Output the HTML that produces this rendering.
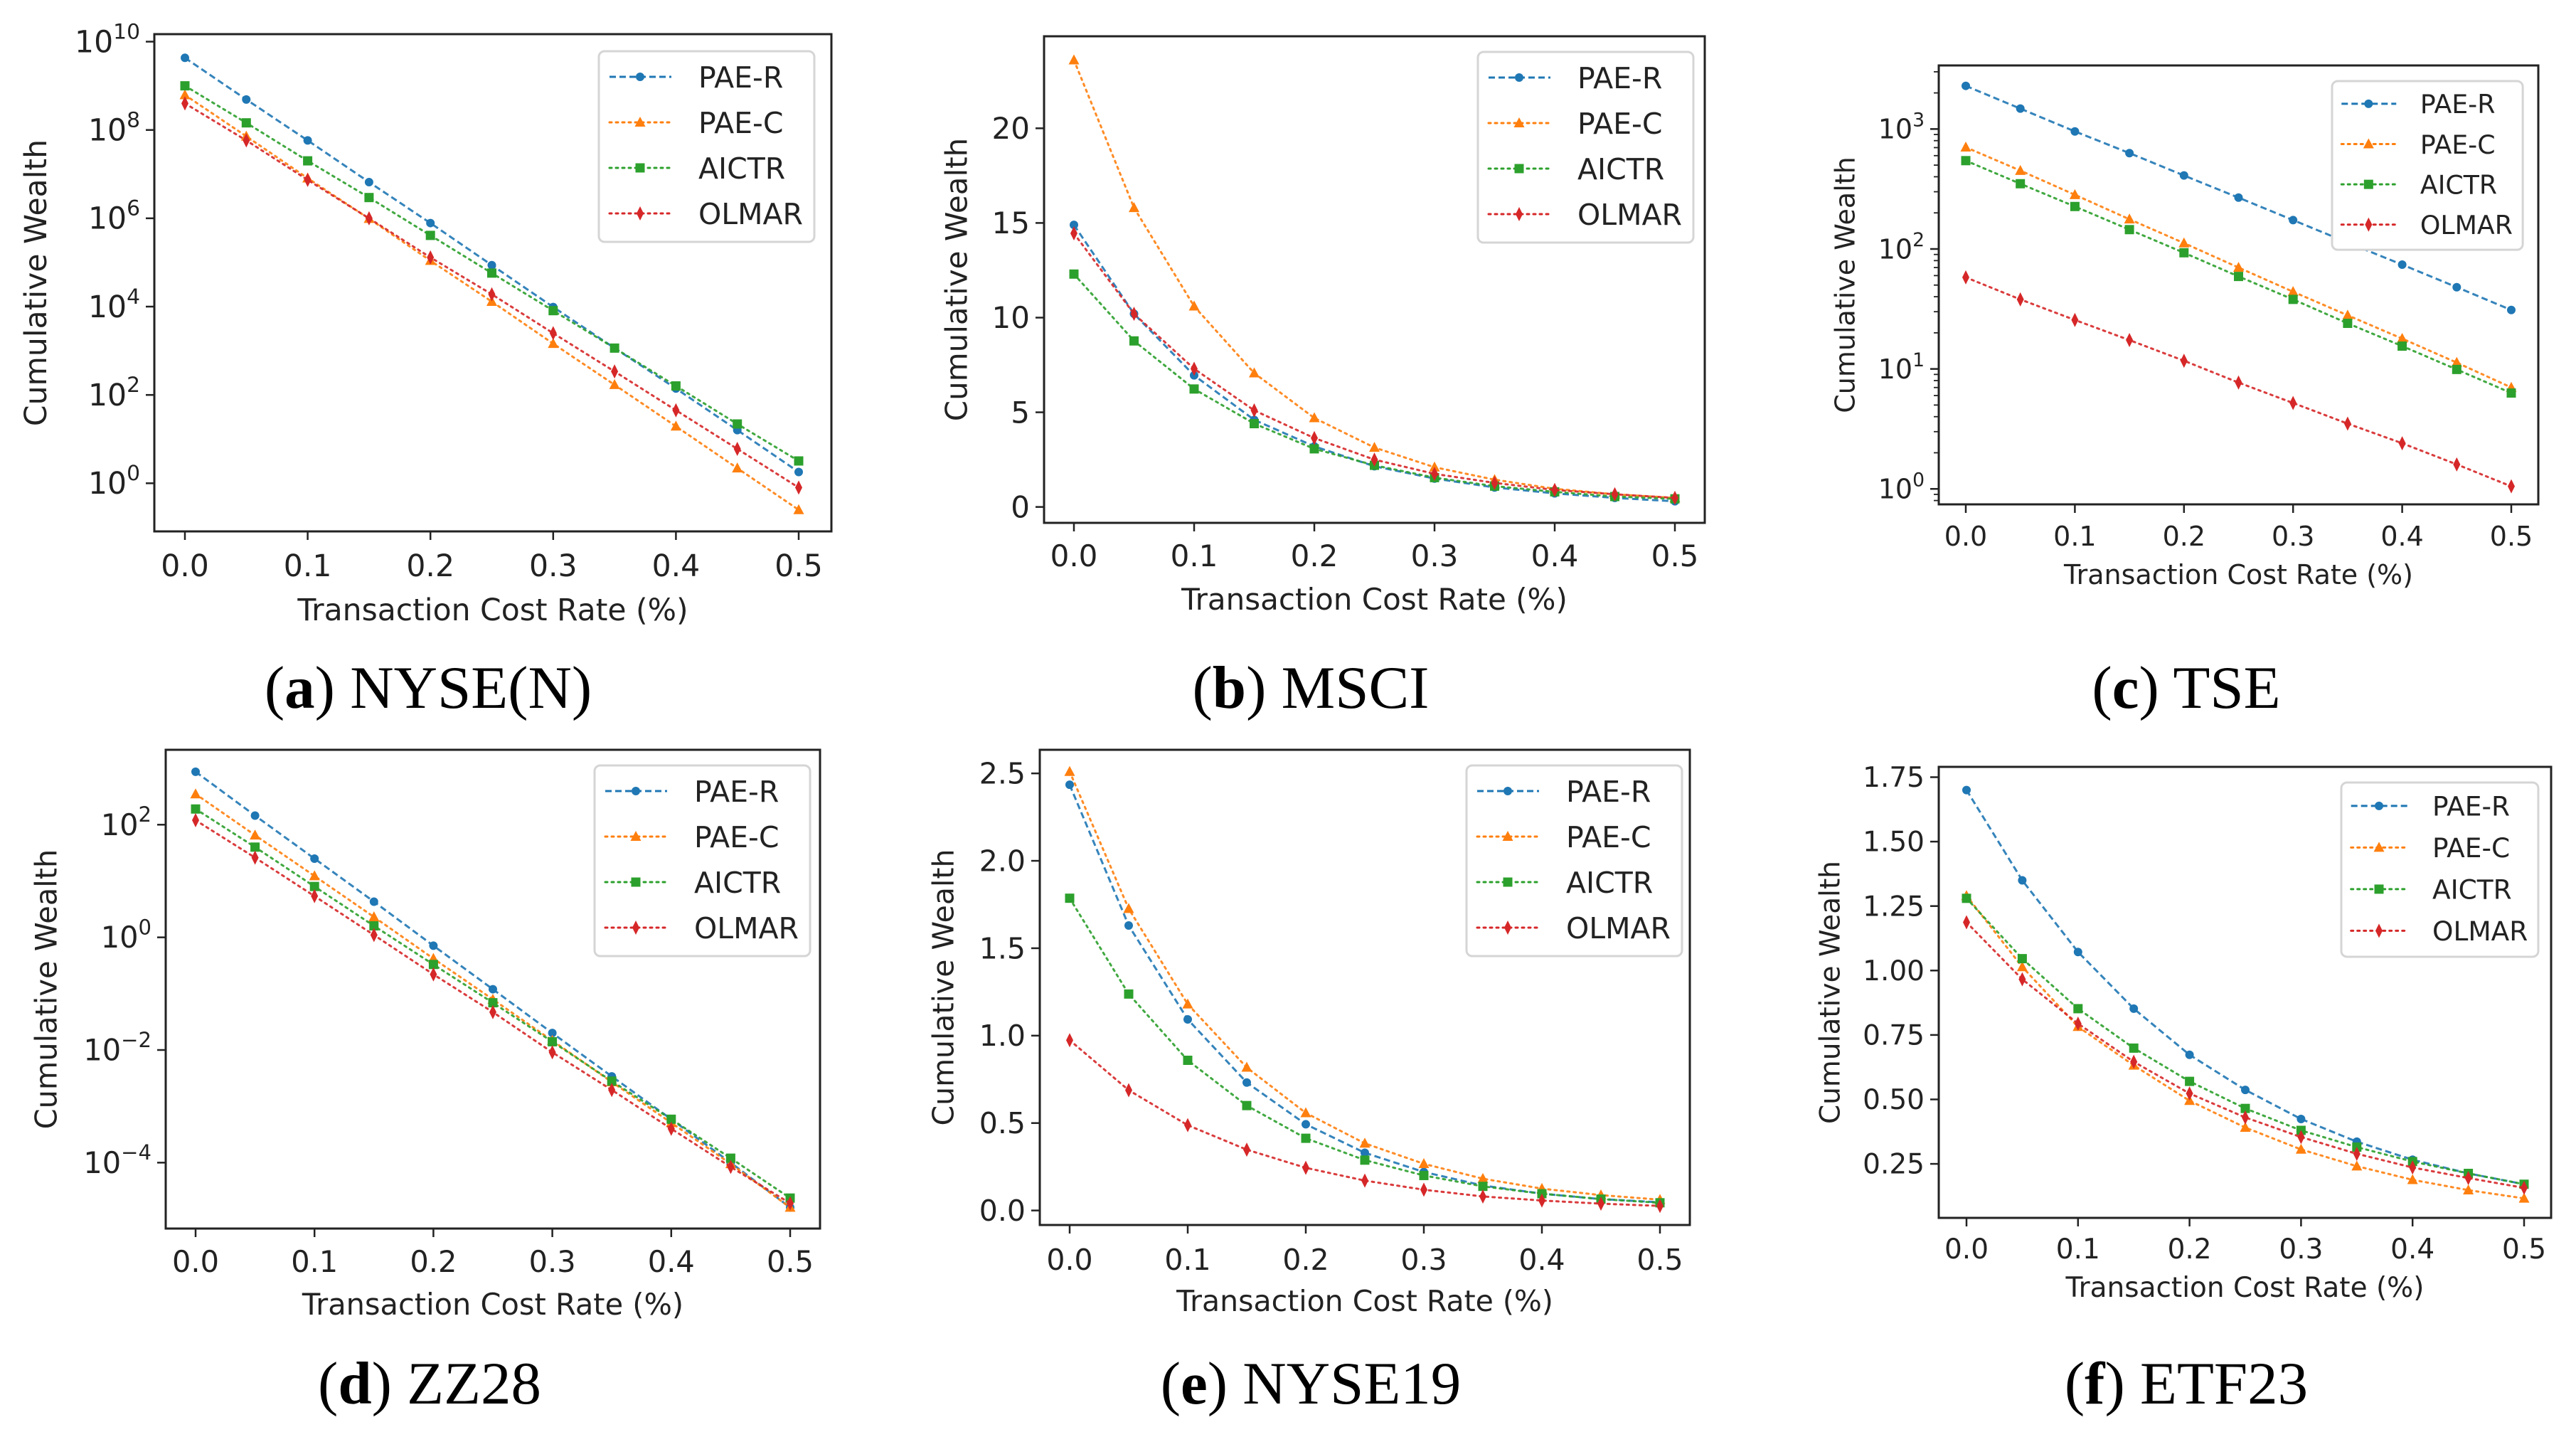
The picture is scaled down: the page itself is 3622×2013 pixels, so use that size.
<!DOCTYPE html>
<html><head><meta charset="utf-8"><style>
html,body{margin:0;padding:0;background:#fff;}
svg{display:block;}
text{font-family:"DejaVu Sans","Liberation Sans",sans-serif;fill:#222;}
.cap{font-family:"Liberation Serif",serif;fill:#000;}
</style></head><body>
<svg id="fig" width="3622" height="2013" viewBox="0 0 3622 2013" xmlns="http://www.w3.org/2000/svg"></svg>
<script>
const xValues = [0, 0.05, 0.1, 0.15, 0.2, 0.25, 0.3, 0.35, 0.4, 0.45, 0.5];
const xTickLabels = ["0.0", "0.1", "0.2", "0.3", "0.4", "0.5"];
const seriesNames = ["PAE-R", "PAE-C", "AICTR", "OLMAR"];

const nyseN_paeR = [4.3e9, 4.9e8, 5.8e7, 6.6e6, 7.8e5, 8.7e4, 9.8e3, 1.15e3, 1.4e2, 16, 1.8];
const nyseN_paeC = [6.2e8, 7.2e7, 8.1e6, 9.8e5, 1.1e5, 1.3e4, 1.45e3, 1.7e2, 19.5, 2.2, 0.25];
const nyseN_aictr = [1.0e9, 1.45e8, 2.0e7, 2.95e6, 4.1e5, 5.75e4, 8.1e3, 1.15e3, 1.6e2, 22, 3.2];
const nyseN_olmar = [4.0e8, 5.8e7, 7.4e6, 1.0e6, 1.3e5, 1.9e4, 2.5e3, 3.4e2, 45, 6.0, 0.8];
const nyseN_yTickExps = [0, 2, 4, 6, 8, 10];

const msci_paeR = [14.9, 10.2, 6.95, 4.6, 3.2, 2.15, 1.5, 1.03, 0.72, 0.48, 0.3];
const msci_paeC = [23.6, 15.8, 10.6, 7.07, 4.7, 3.14, 2.1, 1.44, 0.96, 0.67, 0.48];
const msci_aictr = [12.3, 8.77, 6.23, 4.4, 3.07, 2.2, 1.55, 1.1, 0.8, 0.55, 0.43];
const msci_olmar = [14.45, 10.2, 7.3, 5.1, 3.64, 2.5, 1.75, 1.27, 0.9, 0.67, 0.48];
const msci_yTicks = [0, 5, 10, 15, 20];
const msci_yTickLabels = ["0", "5", "10", "15", "20"];

const tse_paeR = [2290, 1480, 955, 630, 410, 268, 174, 113, 74, 48, 31];
const tse_paeC = [705, 450, 283, 177, 112, 70, 44, 28, 17.9, 11.3, 7.0];
const tse_aictr = [545, 350, 226, 145, 93, 59, 38, 24, 15.5, 9.9, 6.3];
const tse_olmar = [58, 38, 25.6, 17.4, 11.7, 7.7, 5.2, 3.5, 2.4, 1.6, 1.05];
const tse_yTickExps = [0, 1, 2, 3];

const zz28_paeR = [870, 145, 25, 4.3, 0.71, 0.12, 0.020, 3.4e-3, 5.9e-4, 1.0e-4, 1.6e-5];
const zz28_paeC = [350, 65, 12.3, 2.3, 0.42, 0.079, 0.0147, 2.7e-3, 5.1e-4, 9.5e-5, 1.6e-5];
const zz28_aictr = [190, 40, 8.0, 1.6, 0.33, 0.069, 0.014, 2.8e-3, 5.9e-4, 1.2e-4, 2.35e-5];
const zz28_olmar = [120, 26, 5.4, 1.1, 0.22, 0.047, 9.1e-3, 1.95e-3, 4.0e-4, 8.4e-5, 1.9e-5];
const zz28_yTickExps = [-4, -2, 0, 2];

const nyse19_paeR = [2.435, 1.63, 1.093, 0.732, 0.493, 0.33, 0.22, 0.143, 0.096, 0.065, 0.047];
const nyse19_paeC = [2.51, 1.726, 1.18, 0.818, 0.558, 0.384, 0.267, 0.182, 0.125, 0.088, 0.062];
const nyse19_aictr = [1.786, 1.238, 0.859, 0.60, 0.413, 0.288, 0.20, 0.138, 0.096, 0.065, 0.044];
const nyse19_olmar = [0.974, 0.688, 0.488, 0.348, 0.244, 0.171, 0.119, 0.08, 0.057, 0.039, 0.026];
const nyse19_yTicks = [0, 0.5, 1.0, 1.5, 2.0, 2.5];
const nyse19_yTickLabels = ["0.0", "0.5", "1.0", "1.5", "2.0", "2.5"];

const etf23_paeR = [1.70, 1.35, 1.072, 0.852, 0.673, 0.537, 0.424, 0.336, 0.266, 0.213, 0.171];
const etf23_paeC = [1.29, 1.014, 0.782, 0.632, 0.495, 0.391, 0.306, 0.241, 0.188, 0.148, 0.116];
const etf23_aictr = [1.28, 1.046, 0.852, 0.699, 0.570, 0.465, 0.38, 0.315, 0.259, 0.213, 0.171];
const etf23_olmar = [1.187, 0.966, 0.794, 0.646, 0.523, 0.43, 0.354, 0.289, 0.236, 0.195, 0.157];
const etf23_yTicks = [0.25, 0.5, 0.75, 1.0, 1.25, 1.5, 1.75];
const etf23_yTickLabels = ["0.25", "0.50", "0.75", "1.00", "1.25", "1.50", "1.75"];

const NS = "http://www.w3.org/2000/svg";
const svg = document.getElementById("fig");
const COLORS = ["#1f77b4", "#ff7f0e", "#2ca02c", "#d62728"];
const DASH = ["9 5", "3 6", "3 6", "3 6"];
const MARK = ["circle", "tri", "square", "diamond"];

function el(tag, attrs, parent) {
  const e = document.createElementNS(NS, tag);
  for (const k in attrs) e.setAttribute(k, attrs[k]);
  (parent || svg).appendChild(e);
  return e;
}

const panels = [
  {id: "nyse-n", letter: "a", title: "NYSE(N)", log: true, series: [nyseN_paeR, nyseN_paeC, nyseN_aictr, nyseN_olmar], ticksExp: nyseN_yTickExps, minor: false, fs: 42.5, ls: 1,
   box: [217, 48, 1169, 747], dom: [-1.09, 10.17], xp: [260, 1123], leg: [842, 72], ylabX: 50, tickY: 810, xlabY: 872, capX: 602, capY: 995},
  {id: "msci", letter: "b", title: "MSCI", log: false, series: [msci_paeR, msci_paeC, msci_aictr, msci_olmar], ticks: msci_yTicks, tickLabels: msci_yTickLabels, fs: 42, ls: 1,
   box: [1468, 51, 2397, 735], dom: [-0.84, 24.86], xp: [1510, 2355], leg: [2078, 73], ylabX: 1345, tickY: 796, xlabY: 857, capX: 1843, capY: 995},
  {id: "tse", letter: "c", title: "TSE", log: true, series: [tse_paeR, tse_paeC, tse_aictr, tse_olmar], ticksExp: tse_yTickExps, minor: true, fs: 38, ls: 0.885,
   box: [2726, 92, 3569, 709], dom: [-0.129, 3.53], xp: [2764, 3531], leg: [3279, 114], ylabX: 2594, tickY: 767, xlabY: 821, capX: 3074, capY: 995},
  {id: "zz28", letter: "d", title: "ZZ28", log: true, series: [zz28_paeR, zz28_paeC, zz28_aictr, zz28_olmar], ticksExp: zz28_yTickExps, minor: false, fs: 41.5, ls: 1,
   box: [233, 1054, 1153, 1727], dom: [-5.17, 3.33], xp: [275, 1111], leg: [836, 1076], ylabX: 65, tickY: 1788, xlabY: 1848, capX: 604, capY: 1973},
  {id: "nyse19", letter: "e", title: "NYSE19", log: false, series: [nyse19_paeR, nyse19_paeC, nyse19_aictr, nyse19_olmar], ticks: nyse19_yTicks, tickLabels: nyse19_yTickLabels, fs: 41, ls: 1,
   box: [1462, 1054, 2376, 1722], dom: [-0.083, 2.635], xp: [1504, 2334], leg: [2062, 1076], ylabX: 1326, tickY: 1785, xlabY: 1843, capX: 1843, capY: 1973},
  {id: "etf23", letter: "f", title: "ETF23", log: false, series: [etf23_paeR, etf23_paeC, etf23_aictr, etf23_olmar], ticks: etf23_yTicks, tickLabels: etf23_yTickLabels, fs: 39, ls: 0.914,
   box: [2726, 1078, 3587, 1712], dom: [0.0405, 1.79], xp: [2765, 3549], leg: [3292, 1100], ylabX: 2573, tickY: 1769, xlabY: 1823, capX: 3074, capY: 1973}
];

function marker(g, type, x, y, color, s) {
  let m;
  if (type === "circle") m = el("circle", {cx: x, cy: y, r: 6 * s, fill: color}, g);
  else if (type === "square") m = el("rect", {x: x - 6.5 * s, y: y - 6.5 * s, width: 13 * s, height: 13 * s, fill: color}, g);
  else if (type === "tri") m = el("polygon", {points: `${x},${y - 8 * s} ${x - 7.5 * s},${y + 6 * s} ${x + 7.5 * s},${y + 6 * s}`, fill: color}, g);
  else m = el("polygon", {points: `${x},${y - 10 * s} ${x - 5 * s},${y} ${x},${y + 10 * s} ${x + 5 * s},${y}`, fill: color}, g);
  
  
  return m;
}

panels.forEach(p => {
  const [L, T, R, B] = p.box;
  const fs = p.fs;
  const g = el("g", {});
  
  
  const xs = v => p.xp[0] + (v / 0.5) * (p.xp[1] - p.xp[0]);
  const ys = v => {
    const t = p.log ? Math.log10(v) : v;
    return B - (t - p.dom[0]) / (p.dom[1] - p.dom[0]) * (B - T);
  };
  const yExp = e => B - (e - p.dom[0]) / (p.dom[1] - p.dom[0]) * (B - T);

  xTickLabels.forEach((lab, i) => {
    const v = i * 0.1, x = xs(v);
    el("line", {x1: x, y1: B, x2: x, y2: B + 12, stroke: "#222", "stroke-width": 2.5}, g);
    const t = el("text", {x: x, y: p.tickY, "font-size": fs, "text-anchor": "middle"}, g);
    t.textContent = lab;
    
    
  });
  if (p.log) {
    p.ticksExp.forEach(e => {
      const y = yExp(e);
      el("line", {x1: L - 12, y1: y, x2: L, y2: y, stroke: "#222", "stroke-width": 2.5}, g);
      const t = el("text", {x: L - 20, y: y + fs * 0.35, "font-size": fs, "text-anchor": "end"}, g);
      
      
      const a = el("tspan", {}, t); a.textContent = "10";
      const b = el("tspan", {"font-size": fs * 0.7, dy: -fs * 0.45}, t); b.textContent = e < 0 ? "\u2212" + (-e) : String(e);
    });
    if (p.minor) {
      for (let d = Math.floor(p.dom[0]); d <= Math.ceil(p.dom[1]); d++) {
        for (let k = 2; k <= 9; k++) {
          const e = d + Math.log10(k);
          if (e < p.dom[0] || e > p.dom[1]) continue;
          const y = yExp(e);
          el("line", {x1: L - 7, y1: y, x2: L, y2: y, stroke: "#222", "stroke-width": 1.8}, g);
        }
      }
    }
  } else {
    p.ticks.forEach((v, i) => {
      const y = ys(v);
      el("line", {x1: L - 12, y1: y, x2: L, y2: y, stroke: "#222", "stroke-width": 2.5}, g);
      const t = el("text", {x: L - 20, y: y + fs * 0.35, "font-size": fs, "text-anchor": "end"}, g);
      t.textContent = p.tickLabels[i];
      
      
    });
  }
  const clipId = "clip-" + p.id;
  const cp = el("clipPath", {id: clipId}, g);
  el("rect", {x: L, y: T, width: R - L, height: B - T}, cp);
  const sg = el("g", {"clip-path": `url(#${clipId})`}, g);
  p.series.forEach((arr, si) => {
    const pts = arr.map((v, i) => `${xs(xValues[i]).toFixed(1)},${ys(v).toFixed(1)}`).join(" ");
    const line = el("polyline", {points: pts, fill: "none", stroke: COLORS[si], "stroke-width": 3, "stroke-dasharray": DASH[si], "stroke-linecap": si === 0 ? "butt" : "round", opacity: 0.9}, sg);
    
    
    arr.forEach((v, i) => marker(sg, MARK[si], xs(xValues[i]), ys(v), COLORS[si], 1));
  });
  const fr = el("rect", {x: L, y: T, width: R - L, height: B - T, fill: "none", stroke: "#222", "stroke-width": 3}, g);
  
  
  const [lx, ly] = p.leg;
  const s = p.ls;
  const lg = el("g", {}, g);
  
  
  el("rect", {x: lx, y: ly, width: 303 * s, height: 268 * s, rx: 8, fill: "#fff", stroke: "#d5d5d5", "stroke-width": 3}, lg);
  seriesNames.forEach((n, si) => {
    const ry = ly + (36 + si * 64) * s;
    const ent = el("g", {}, lg);
    
    
    el("line", {x1: lx + 15 * s, y1: ry, x2: lx + 102 * s, y2: ry, stroke: COLORS[si], "stroke-width": 3, "stroke-dasharray": DASH[si], "stroke-linecap": si === 0 ? "butt" : "round"}, ent);
    marker(ent, MARK[si], lx + 58 * s, ry, COLORS[si], 1);
    const t = el("text", {x: lx + 140 * s, y: ry + 15 * s, "font-size": 41 * s}, ent);
    t.textContent = n;
  });
  const xl = el("text", {x: (L + R) / 2, y: p.xlabY, "font-size": fs, "text-anchor": "middle"}, g);
  xl.textContent = "Transaction Cost Rate (%)";
  
  
  const ycen = (T + B) / 2;
  const yl = el("text", {x: p.ylabX, y: ycen, "font-size": fs, "text-anchor": "middle", transform: `rotate(-90 ${p.ylabX} ${ycen})`, dy: fs * 0.35}, g);
  yl.textContent = "Cumulative Wealth";
  
  
  const cap = el("text", {x: p.capX, y: p.capY, "font-size": 85, "text-anchor": "middle", class: "cap"}, g);
  
  
  const c1 = el("tspan", {}, cap); c1.textContent = "(";
  const c2 = el("tspan", {"font-weight": "bold"}, cap); c2.textContent = p.letter;
  const c3 = el("tspan", {}, cap); c3.textContent = ") " + p.title;
});
</script>
</body></html>
